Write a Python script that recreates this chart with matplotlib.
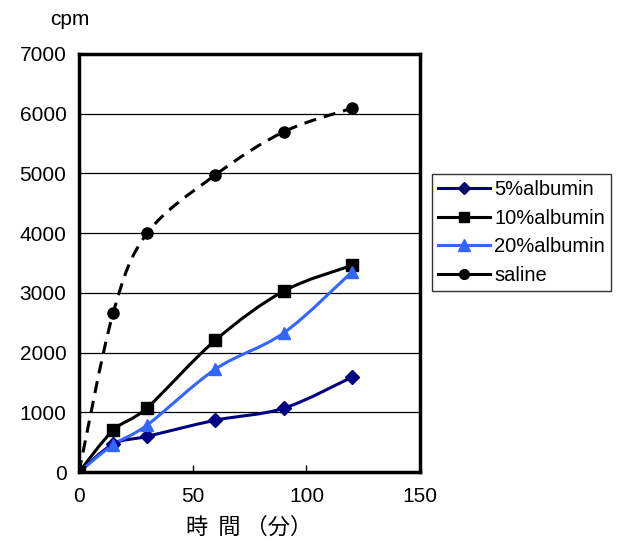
import matplotlib
matplotlib.use("Agg")
import matplotlib.pyplot as plt
from matplotlib.path import Path
from matplotlib.patches import PathPatch
from matplotlib.lines import Line2D
import numpy as np

plt.rcParams['font.family'] = ['Liberation Sans', 'Noto Sans CJK JP', 'DejaVu Sans']

time_min = [0, 15, 30, 60, 90, 120]
alb5 = [0, 470, 600, 870, 1070, 1590]
alb10 = [0, 700, 1080, 2210, 3030, 3460]
alb20 = [0, 460, 790, 1725, 2330, 3350]
saline = [0, 2660, 4000, 4975, 5695, 6090]
series_names = ['5%albumin', '10%albumin', '20%albumin', 'saline']
x_ticks = [0, 50, 100, 150]
y_ticks = [0, 1000, 2000, 3000, 4000, 5000, 6000, 7000]

fig = plt.figure(figsize=(6.17, 5.44), dpi=100)
ax = fig.add_axes([0.128, 0.132, 0.553, 0.769])


def smooth_path(xs, ys):
    pts = np.column_stack([xs, ys]).astype(float)
    n = len(pts)
    verts = [pts[0]]
    codes = [Path.MOVETO]
    for i in range(n - 1):
        p0 = pts[i - 1] if i > 0 else pts[i]
        p1 = pts[i]
        p2 = pts[i + 1]
        p3 = pts[i + 2] if i + 2 < n else pts[i + 1]
        c1 = p1 + (p2 - p0) / 6.0
        c2 = p2 - (p3 - p1) / 6.0
        verts += [c1, c2, p2]
        codes += [Path.CURVE4] * 3
    return Path(verts, codes)


styles = [
    dict(data=alb5, color='#000080', marker='D', ms=7, ls='-'),
    dict(data=alb10, color='black', marker='s', ms=8, ls='-'),
    dict(data=alb20, color='#3366FF', marker='^', ms=9, ls='-'),
    dict(data=saline, color='black', marker='o', ms=8, ls=(0, (4, 2.6))),
]

handles = []
for st, name in zip(styles, series_names):
    patch = PathPatch(smooth_path(time_min, st['data']), facecolor='none',
                      edgecolor=st['color'], lw=2.2, linestyle=st['ls'],
                      capstyle='butt', zorder=3)
    ax.add_patch(patch)
    ax.plot(time_min, st['data'], linestyle='none', marker=st['marker'],
            ms=st['ms'], color=st['color'], zorder=4)
    handles.append(Line2D([], [], color=st['color'], lw=2.2, marker=st['marker'],
                          ms=st['ms'] - 1, label=name))

ax.set_xlim(0, 150)
ax.set_ylim(0, 7000)
ax.set_xticks(x_ticks)
ax.set_yticks(y_ticks)
ax.set_xticklabels([str(v) for v in x_ticks])
ax.set_yticklabels([str(v) for v in y_ticks])
ax.tick_params(axis='x', direction='in', length=5, width=1, labelsize=15, pad=11)
ax.tick_params(axis='y', length=0, labelsize=15, pad=9)
ax.yaxis.grid(True, color='black', lw=0.9)
ax.set_axisbelow(True)
for sp in ax.spines.values():
    sp.set_linewidth(2.5)
    sp.set_color('black')

ax.set_xlabel('時  間 （分）', fontsize=16, labelpad=7,
              family=['Noto Sans CJK JP', 'DejaVu Sans'])
fig.text(0.081, 0.965, 'cpm', fontsize=15, ha='left', va='center')

leg = fig.legend(handles=handles, loc='upper left', bbox_to_anchor=(0.700, 0.680),
                 frameon=True, fancybox=False, fontsize=14.5, handlelength=2.6,
                 handletextpad=0.2, borderpad=0.3, labelspacing=0.48,
                 borderaxespad=0)
leg.get_frame().set_edgecolor('black')
leg.get_frame().set_linewidth(1.0)

fig.savefig('out.png', dpi=100)
